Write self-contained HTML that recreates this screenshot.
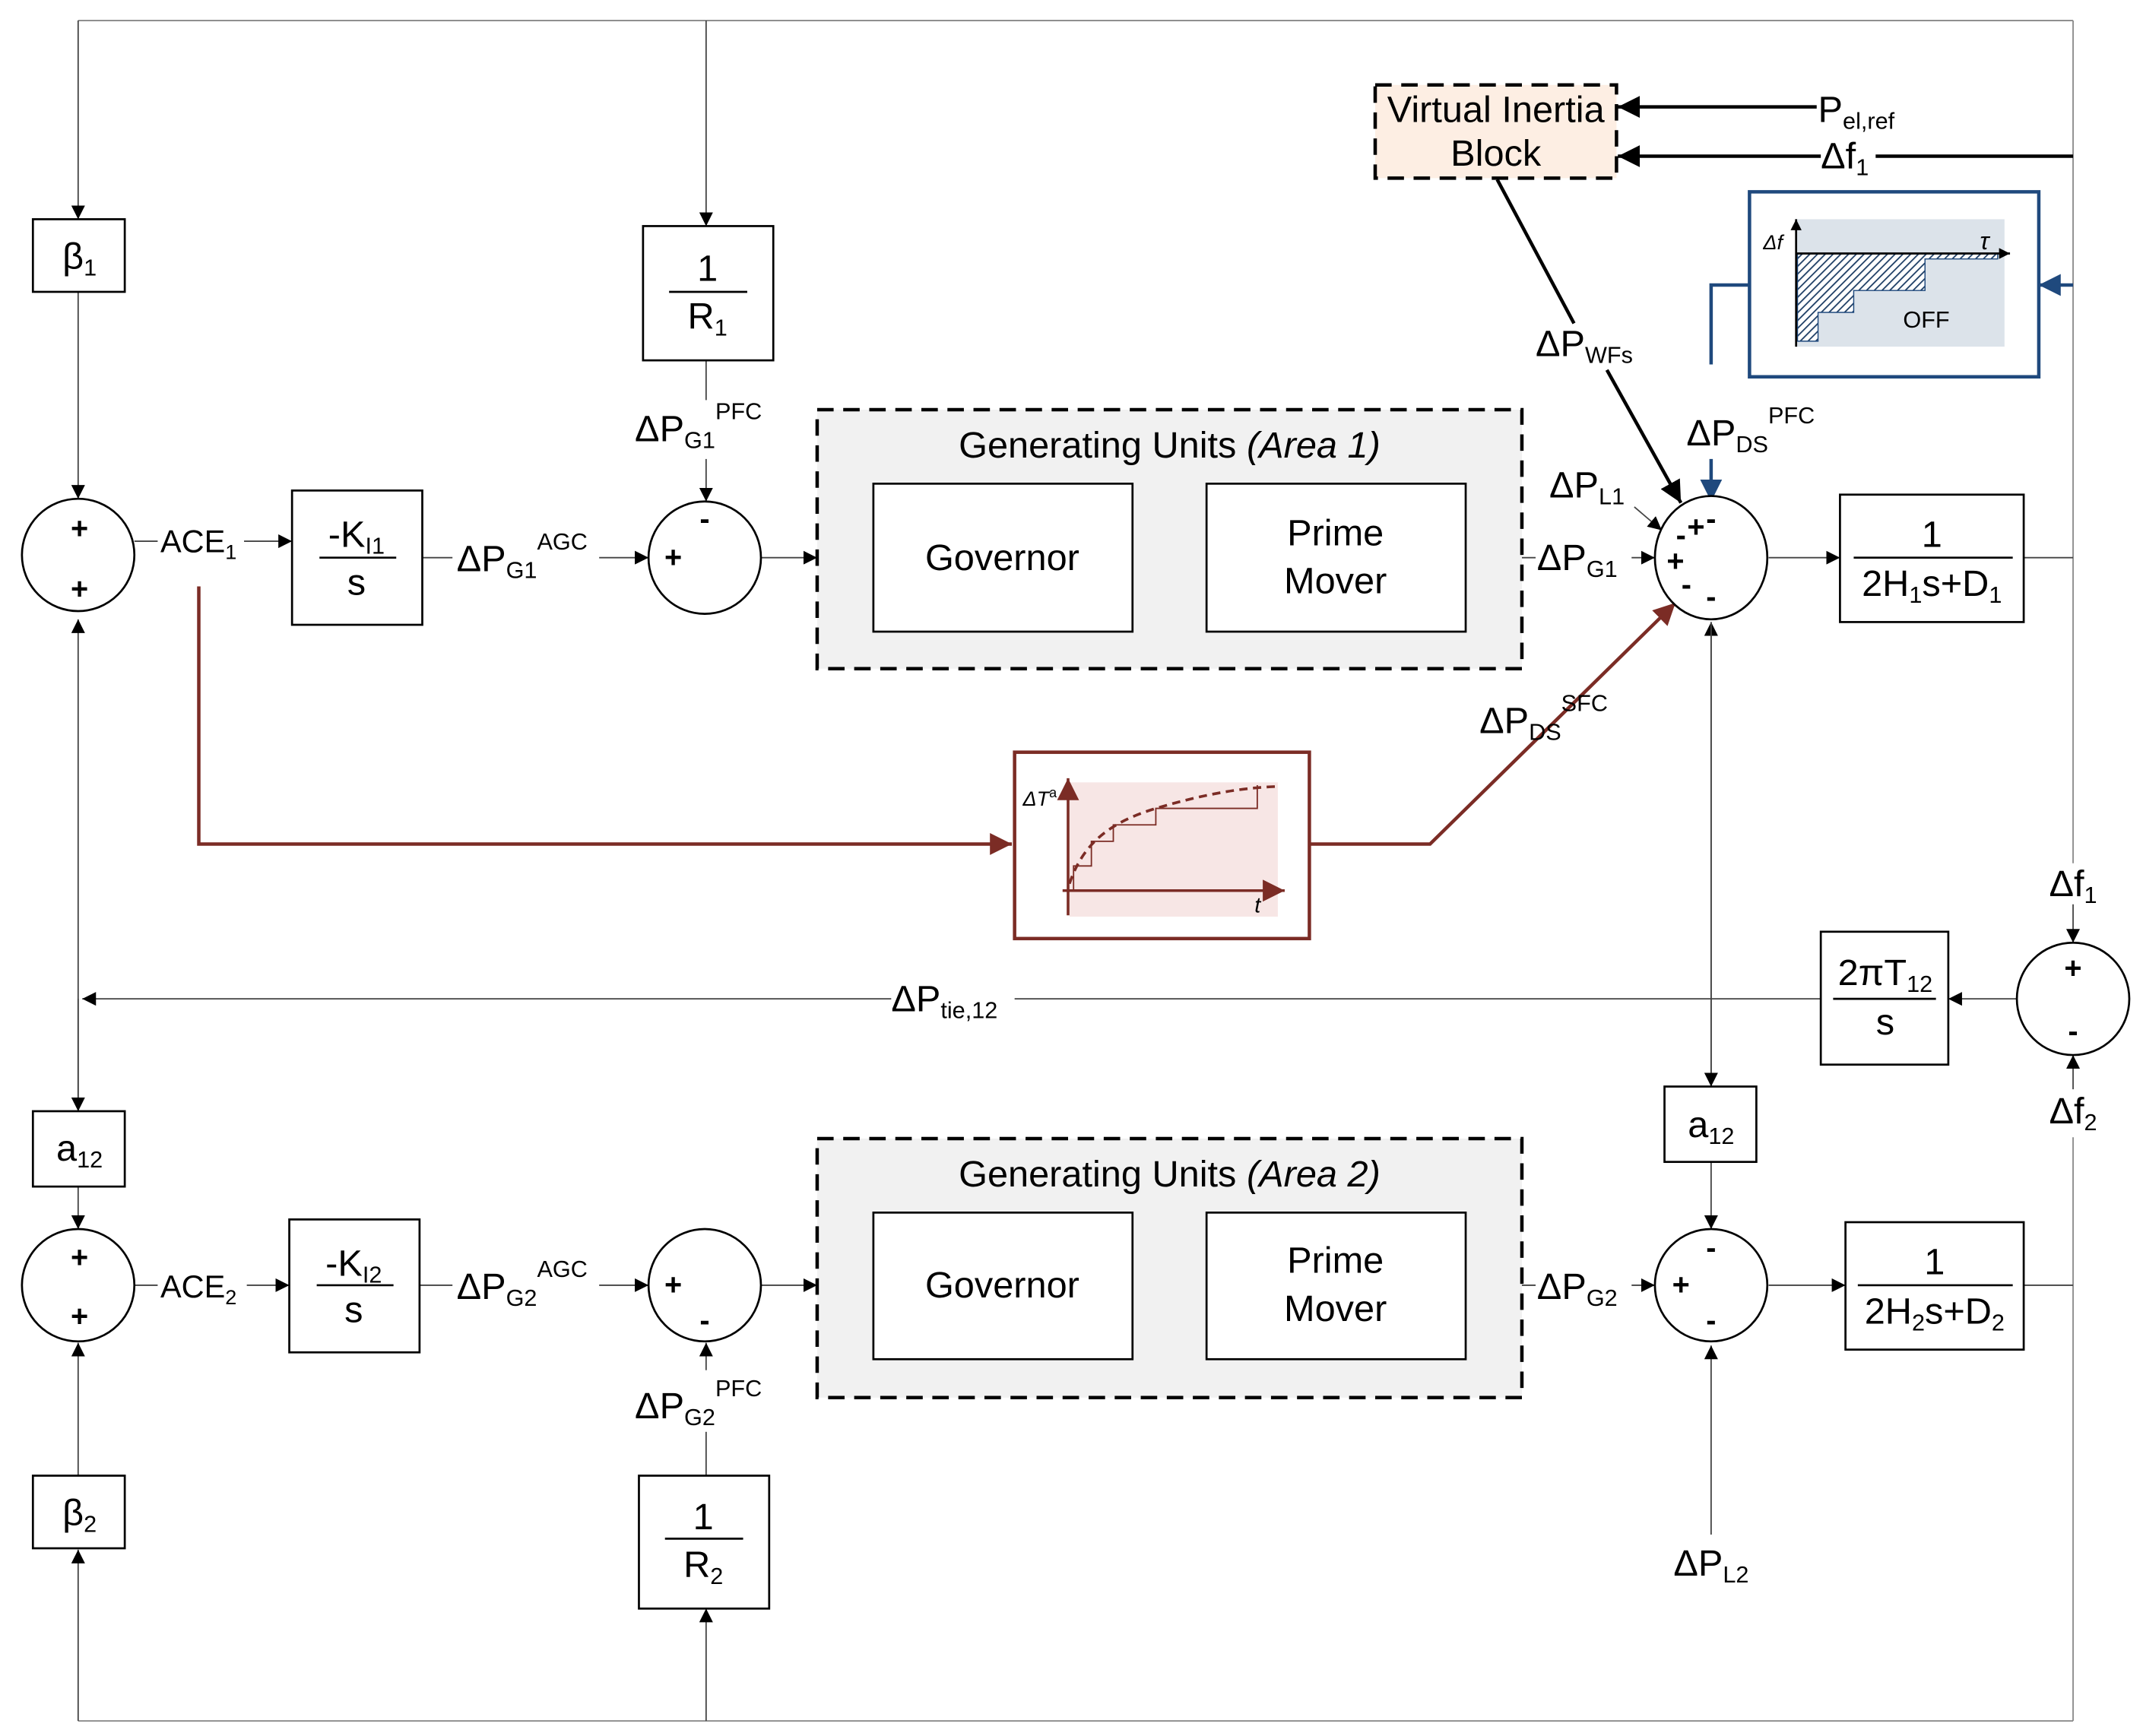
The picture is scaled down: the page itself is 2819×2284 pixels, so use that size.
<!DOCTYPE html>
<html><head><meta charset="utf-8"><style>
html,body{margin:0;padding:0;background:#fff;}
svg{display:block;}
text{font-family:"Liberation Sans",Arial,sans-serif;fill:#000;}
</style></head><body>
<svg width="2819" height="2284" viewBox="0 0 1563 1267" preserveAspectRatio="none" xmlns="http://www.w3.org/2000/svg">
<defs>
<marker id="a" viewBox="0 0 10 10" refX="10" refY="5" markerWidth="10" markerHeight="10" markerUnits="userSpaceOnUse" orient="auto"><path d="M0,0L10,5L0,10z" fill="#000"/></marker>
<marker id="ab" viewBox="0 0 10 10" refX="10" refY="5" markerWidth="16" markerHeight="16" markerUnits="userSpaceOnUse" orient="auto"><path d="M0,0L10,5L0,10z" fill="#000"/></marker>
<marker id="ar" viewBox="0 0 10 10" refX="10" refY="5" markerWidth="16" markerHeight="16" markerUnits="userSpaceOnUse" orient="auto"><path d="M0,0L10,5L0,10z" fill="#7b2c25"/></marker>
<marker id="au" viewBox="0 0 10 10" refX="10" refY="5" markerWidth="16" markerHeight="16" markerUnits="userSpaceOnUse" orient="auto"><path d="M0,0L10,5L0,10z" fill="#1f497d"/></marker>
<marker id="sm" viewBox="0 0 10 10" refX="10" refY="5" markerWidth="8" markerHeight="8" markerUnits="userSpaceOnUse" orient="auto"><path d="M0,0L10,5L0,10z" fill="currentColor"/></marker>
<pattern id="h" width="4" height="4" patternUnits="userSpaceOnUse" patternTransform="rotate(45)"><rect width="4" height="4" fill="#fff"/><line x1="0" y1="0" x2="0" y2="4" stroke="#1f3f66" stroke-width="2"/></pattern>
</defs>

<g stroke="#888" stroke-width="1" fill="none">
<line x1="57" y1="15" x2="1512" y2="15"/>
<line x1="57" y1="1256" x2="1512" y2="1256"/>
<line x1="1512" y1="15" x2="1512" y2="630"/>
<line x1="1512" y1="830" x2="1512" y2="1256"/>
</g>
<g stroke="#444" stroke-width="1" fill="none">
<line x1="57" y1="15" x2="57" y2="160" marker-end="url(#a)"/>
<line x1="57" y1="213" x2="57" y2="364" marker-end="url(#a)"/>
<line x1="57" y1="811" x2="57" y2="452" marker-end="url(#a)"/>
<line x1="57" y1="729" x2="57" y2="811" marker-end="url(#a)"/>
<line x1="57" y1="866" x2="57" y2="897" marker-end="url(#a)"/>
<line x1="57" y1="1077" x2="57" y2="980" marker-end="url(#a)"/>
<line x1="57" y1="1256" x2="57" y2="1131" marker-end="url(#a)"/>
<line x1="515" y1="15" x2="515" y2="165" marker-end="url(#a)"/>
<line x1="515" y1="263" x2="515" y2="292"/>
<line x1="515" y1="335" x2="515" y2="366" marker-end="url(#a)"/>
<line x1="515" y1="1256" x2="515" y2="1174" marker-end="url(#a)"/>
<line x1="515" y1="1077" x2="515" y2="1045"/>
<line x1="515" y1="1000" x2="515" y2="980" marker-end="url(#a)"/>
<line x1="98" y1="395" x2="115" y2="395"/>
<line x1="178" y1="395" x2="213" y2="395" marker-end="url(#a)"/>
<line x1="308" y1="407" x2="330" y2="407"/>
<line x1="437" y1="407" x2="473" y2="407" marker-end="url(#a)"/>
<line x1="555" y1="407" x2="596" y2="407" marker-end="url(#a)"/>
<line x1="98" y1="938" x2="115" y2="938"/>
<line x1="180" y1="938" x2="211" y2="938" marker-end="url(#a)"/>
<line x1="306" y1="938" x2="330" y2="938"/>
<line x1="437" y1="938" x2="473" y2="938" marker-end="url(#a)"/>
<line x1="555" y1="938" x2="596" y2="938" marker-end="url(#a)"/>
<line x1="1110" y1="407" x2="1120" y2="407"/>
<line x1="1190" y1="407" x2="1207" y2="407" marker-end="url(#a)"/>
<line x1="1110" y1="938" x2="1120" y2="938"/>
<line x1="1190" y1="938" x2="1207" y2="938" marker-end="url(#a)"/>
<line x1="1290" y1="407" x2="1342" y2="407" marker-end="url(#a)"/>
<line x1="1476" y1="407" x2="1512" y2="407"/>
<line x1="1290" y1="938" x2="1346" y2="938" marker-end="url(#a)"/>
<line x1="1476" y1="938" x2="1512" y2="938"/>
<line x1="1248" y1="793" x2="1248" y2="454" marker-end="url(#a)"/>
<line x1="1248" y1="454" x2="1248" y2="793" marker-end="url(#a)"/>
<line x1="1248" y1="848" x2="1248" y2="897" marker-end="url(#a)"/>
<line x1="1248" y1="1120" x2="1248" y2="982" marker-end="url(#a)"/>
<line x1="1512" y1="660" x2="1512" y2="688" marker-end="url(#a)"/>
<line x1="1512" y1="795" x2="1512" y2="770" marker-end="url(#a)"/>
<line x1="1471" y1="729" x2="1421" y2="729" marker-end="url(#a)"/>
<line x1="1328" y1="729" x2="740" y2="729"/>
<line x1="650" y1="729" x2="60" y2="729" marker-end="url(#a)"/>
<line x1="1192" y1="370" x2="1212" y2="387" marker-end="url(#a)"/>
</g>

<g stroke="#000" stroke-width="2.5" fill="none">
<line x1="1325" y1="78" x2="1180" y2="78" marker-end="url(#ab)"/>
<line x1="1512" y1="114" x2="1368" y2="114"/>
<line x1="1328" y1="114" x2="1180" y2="114" marker-end="url(#ab)"/>
<line x1="1092" y1="131" x2="1148" y2="236"/>
<line x1="1172" y1="270" x2="1226" y2="367" marker-end="url(#ab)"/>
</g>

<g stroke="#1f497d" stroke-width="2.5" fill="none">
<line x1="1512" y1="208" x2="1487" y2="208" marker-end="url(#au)"/>
<polyline points="1276,208 1248,208 1248,266"/>
<line x1="1248" y1="335" x2="1248" y2="366" marker-end="url(#au)"/>
<rect x="1276" y="140" width="211" height="135"/>
</g>
<rect x="1310" y="160" width="152" height="93" fill="#dce3ea"/>
<path d="M1311,185 L1457,185 L1457,189 L1404,189 L1404,212 L1352,212 L1352,228 L1326,228 L1326,249 L1311,249 Z" fill="url(#h)" stroke="#1f497d" stroke-width="0.8"/>
<g stroke="#000" stroke-width="1.5"><line x1="1310" y1="253" x2="1310" y2="160" marker-end="url(#sm)"/><line x1="1310" y1="185" x2="1466" y2="185" marker-end="url(#sm)"/></g>
<text x="1286" y="182" font-size="15" font-family="Liberation Serif" font-style="italic">Δf</text>
<text x="1444" y="182" font-size="18" font-family="Liberation Serif" font-style="italic">τ</text>
<text x="1388" y="239" font-size="17">OFF</text>

<g stroke="#7b2c25" stroke-width="2.5" fill="none">
<polyline points="145,428 145,616 738,616" marker-end="url(#ar)"/>
<polyline points="956,616 1043,616 1222,440" marker-end="url(#ar)"/>
<rect x="740" y="549" width="215" height="136"/>
</g>
<rect x="780" y="571" width="152" height="98" fill="#f7e6e5"/>
<g stroke="#7b2c25" fill="none">
<line x1="779" y1="668" x2="779" y2="568" stroke-width="2" marker-end="url(#ar)"/>
<line x1="775" y1="650" x2="937" y2="650" stroke-width="2" marker-end="url(#ar)"/>
<path d="M783,650 L783,632 L796,632 L796,614 L812,614 L812,602 L843,602 L843,590 L917,590 L917,573" stroke-width="1"/>
<path d="M780,645 C790,615 810,600 843,590 C870,582 900,575 932,574" stroke-width="2" stroke-dasharray="6,4"/>
</g>
<text x="746" y="588" font-size="15" font-family="Liberation Serif" font-style="italic">ΔT<tspan font-size="10" dy="-6" font-style="normal">a</tspan></text>
<text x="915" y="666" font-size="16" font-family="Liberation Serif" font-style="italic">t</text>

<g stroke="#000" stroke-width="2.5" stroke-dasharray="12,7">
<rect x="596" y="299" width="514" height="189" fill="#f1f1f1"/>
<rect x="596" y="831" width="514" height="189" fill="#f1f1f1"/>
<rect x="1003" y="62" width="176" height="68" fill="#fdeee3"/>
</g>
<g stroke="#000" stroke-width="1.5" fill="#fff">
<rect x="637" y="353" width="189" height="108"/>
<rect x="880" y="353" width="189" height="108"/>
<rect x="637" y="885" width="189" height="107"/>
<rect x="880" y="885" width="189" height="107"/>
<rect x="24" y="160" width="67" height="53"/>
<rect x="24" y="811" width="67" height="55"/>
<rect x="24" y="1077" width="67" height="53"/>
<rect x="1214" y="793" width="67" height="55"/>
<rect x="469" y="165" width="95" height="98"/>
<rect x="466" y="1077" width="95" height="97"/>
<rect x="213" y="358" width="95" height="98"/>
<rect x="211" y="890" width="95" height="97"/>
<rect x="1342" y="361" width="134" height="93"/>
<rect x="1346" y="892" width="130" height="93"/>
<rect x="1328" y="680" width="93" height="97"/>
<circle cx="57" cy="405" r="41"/>
<circle cx="57" cy="938" r="41"/>
<circle cx="514" cy="407" r="41"/>
<circle cx="514" cy="938" r="41"/>
<ellipse cx="1248" cy="407" rx="41" ry="45"/>
<circle cx="1248" cy="938" r="41"/>
<circle cx="1512" cy="729" r="41"/>
</g>
<g stroke="#000" stroke-width="1.5">
<line x1="488" y1="213" x2="545" y2="213"/>
<line x1="485" y1="1123" x2="542" y2="1123"/>
<line x1="233" y1="407" x2="289" y2="407"/>
<line x1="231" y1="938" x2="287" y2="938"/>
<line x1="1352" y1="407" x2="1468" y2="407"/>
<line x1="1355" y1="938" x2="1468" y2="938"/>
<line x1="1337" y1="729" x2="1412" y2="729"/>
</g>

<g font-size="27" text-anchor="middle">
<text x="1091" y="89">Virtual Inertia</text>
<text x="1091" y="121">Block</text>
<text x="853" y="334">Generating Units <tspan font-style="italic">(Area 1)</tspan></text>
<text x="853" y="866">Generating Units <tspan font-style="italic">(Area 2)</tspan></text>
<text x="731" y="416">Governor</text>
<text x="974" y="398">Prime</text>
<text x="974" y="433">Mover</text>
<text x="731" y="947">Governor</text>
<text x="974" y="929">Prime</text>
<text x="974" y="964">Mover</text>
<text x="58" y="196">β<tspan font-size="17" dy="5">1</tspan></text>
<text x="58" y="847">a<tspan font-size="17" dy="5">12</tspan></text>
<text x="58" y="1113">β<tspan font-size="17" dy="5">2</tspan></text>
<text x="1248" y="830">a<tspan font-size="17" dy="5">12</tspan></text>
<text x="516" y="205">1</text>
<text x="516" y="240">R<tspan font-size="17" dy="5">1</tspan></text>
<text x="513" y="1116">1</text>
<text x="513" y="1151">R<tspan font-size="17" dy="5">2</tspan></text>
<text x="260" y="399">-K<tspan font-size="17" dy="5">I1</tspan></text>
<text x="260" y="434">s</text>
<text x="258" y="931">-K<tspan font-size="17" dy="5">I2</tspan></text>
<text x="258" y="965">s</text>
<text x="1409" y="399">1</text>
<text x="1409" y="435">2H<tspan font-size="17" dy="5">1</tspan><tspan dy="-5">s+D</tspan><tspan font-size="17" dy="5">1</tspan></text>
<text x="1411" y="930">1</text>
<text x="1411" y="966">2H<tspan font-size="17" dy="5">2</tspan><tspan dy="-5">s+D</tspan><tspan font-size="17" dy="5">2</tspan></text>
<text x="1375" y="719">2πT<tspan font-size="17" dy="5">12</tspan></text>
<text x="1375" y="755">s</text>
<text x="1512" y="654">Δf<tspan font-size="17" dy="5">1</tspan></text>
<text x="1512" y="820">Δf<tspan font-size="17" dy="5">2</tspan></text>
<text x="1248" y="1150">ΔP<tspan font-size="17" dy="5">L2</tspan></text>
</g>
<g font-size="22" font-weight="bold" text-anchor="middle">
<text x="58" y="393">+</text><text x="58" y="437">+</text>
<text x="58" y="925">+</text><text x="58" y="968">+</text>
<text x="514" y="386">-</text><text x="491" y="414">+</text>
<text x="491" y="945">+</text><text x="514" y="971">-</text>
<text x="1248" y="918">-</text><text x="1226" y="945">+</text><text x="1248" y="971">-</text>
<text x="1512" y="714">+</text><text x="1512" y="760">-</text>
<text x="1237" y="392">+</text><text x="1248" y="386">-</text><text x="1226" y="398">-</text>
<text x="1222" y="417">+</text><text x="1230" y="434">-</text><text x="1248" y="443">-</text>
</g>
<g font-size="27">
<text x="117" y="403" font-size="23">ACE<tspan font-size="15" dy="5">1</tspan></text>
<text x="117" y="947" font-size="23">ACE<tspan font-size="15" dy="5">2</tspan></text>
<text x="333" y="417">ΔP<tspan font-size="17" dy="5">G1</tspan><tspan font-size="17" dy="-21">AGC</tspan></text>
<text x="333" y="948">ΔP<tspan font-size="17" dy="5">G2</tspan><tspan font-size="17" dy="-21">AGC</tspan></text>
<text x="463" y="322">ΔP<tspan font-size="17" dy="5">G1</tspan><tspan font-size="17" dy="-21">PFC</tspan></text>
<text x="463" y="1035">ΔP<tspan font-size="17" dy="5">G2</tspan><tspan font-size="17" dy="-21">PFC</tspan></text>
<text x="1121" y="416">ΔP<tspan font-size="17" dy="5">G1</tspan></text>
<text x="1121" y="948">ΔP<tspan font-size="17" dy="5">G2</tspan></text>
<text x="1130" y="363">ΔP<tspan font-size="17" dy="5">L1</tspan></text>
<text x="1120" y="260">ΔP<tspan font-size="17" dy="5">WFs</tspan></text>
<text x="1230" y="325">ΔP<tspan font-size="17" dy="5">DS</tspan><tspan font-size="17" dy="-21">PFC</tspan></text>
<text x="1079" y="535">ΔP<tspan font-size="17" dy="5">DS</tspan><tspan font-size="17" dy="-21">SFC</tspan></text>
<text x="1326" y="89">P<tspan font-size="17" dy="5">el,ref</tspan></text>
<text x="1328" y="123">Δf<tspan font-size="17" dy="5">1</tspan></text>
<text x="650" y="738">ΔP<tspan font-size="17" dy="5">tie,12</tspan></text>
</g>
</svg>
</body></html>
